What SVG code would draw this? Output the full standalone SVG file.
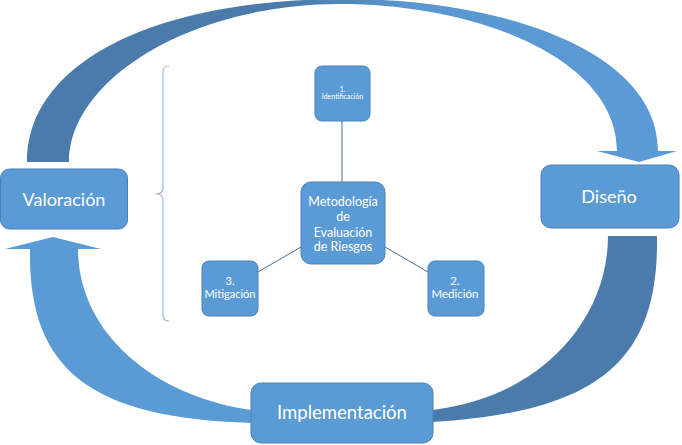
<svg xmlns="http://www.w3.org/2000/svg" width="682" height="445" viewBox="0 0 682 445">
<defs>
<linearGradient id="gTop" x1="0" y1="0" x2="682" y2="0" gradientUnits="userSpaceOnUse">
<stop offset="0" stop-color="#4a7bab"/>
<stop offset="0.42" stop-color="#4a7bab"/>
<stop offset="0.6" stop-color="#5a97d2"/>
<stop offset="1" stop-color="#5b9bd5"/>
</linearGradient>
<style>
.box{fill:#5b9bd5;stroke:#4a80b8;stroke-width:1}
.t{fill:#ffffff;font-family:Lato,"Open Sans","Liberation Sans",sans-serif;text-anchor:middle}
.conn{stroke:#41719c;stroke-width:1;fill:none}
.brace{stroke:#9db7d8;stroke-width:1.2;fill:none}
</style>
</defs>
<rect width="682" height="445" fill="#ffffff"/>
<g id="cycle-arrows">
<path id="arrow-top" fill="url(#gTop)" d="M27,162 C27,62 155,-1 345,-1 C500,-1 658,50 658,151 L677,151 L639,162 L597,151 L617,151 C617,60 480,4 340,4 C190,4 69,80 69,162 Z"/>
<path id="arrow-right" fill="#4a7bab" d="M657,236 C659,360 600,412 432,422 L432,410 C540,398 608,320 608,236 Z"/>
<path id="arrow-left" fill="#5b9bd5" d="M251,423 C90,418 28,370 30,249 L5,249 L53,237 L101,249 L78,249 C78,330 150,395 251,410 Z"/>
</g>
<path id="brace" class="brace" d="M169,66 Q163,66 163,72 L163,188 Q163,194 156,194 Q163,194 163,200 L163,315 Q163,321 169,321"/>
<g id="connectors">
<line class="conn" x1="342" y1="121" x2="342" y2="182"/>
<line class="conn" x1="301" y1="247" x2="258" y2="272"/>
<line class="conn" x1="385" y1="247" x2="428" y2="272"/>
</g>
<g id="valoracion">
<rect class="box" x="0.5" y="169" width="127" height="60" rx="9"/>
<text class="t" x="64" y="206" font-size="18">Valoración</text>
</g>
<g id="diseno">
<rect class="box" x="541" y="165" width="138" height="63" rx="10"/>
<text class="t" x="609" y="203" font-size="18">Diseño</text>
</g>
<g id="implementacion">
<rect class="box" x="251" y="383" width="182" height="60" rx="10"/>
<text class="t" x="342" y="419" font-size="18.5">Implementación</text>
</g>
<g id="metodologia">
<rect class="box" x="301" y="182" width="84" height="82" rx="10"/>
<text class="t" font-size="12.5"><tspan x="343" y="205.5">Metodología</tspan><tspan x="343" y="221">de</tspan><tspan x="343" y="236.5">Evaluación</tspan><tspan x="343" y="251">de Riesgos</tspan></text>
</g>
<g id="identificacion">
<rect class="box" x="315" y="66" width="55" height="55" rx="7"/>
<text class="t" font-size="7"><tspan x="342.5" y="92">1.</tspan><tspan x="342.5" y="99">Identificación</tspan></text>
</g>
<g id="mitigacion">
<rect class="box" x="202" y="261" width="56" height="55" rx="7"/>
<text class="t" font-size="11"><tspan x="230" y="285">3.</tspan><tspan x="230" y="297.5">Mitigación</tspan></text>
</g>
<g id="medicion">
<rect class="box" x="428" y="261" width="56" height="55" rx="7"/>
<text class="t" font-size="11.5"><tspan x="455" y="285">2.</tspan><tspan x="455" y="298">Medición</tspan></text>
</g>
</svg>
